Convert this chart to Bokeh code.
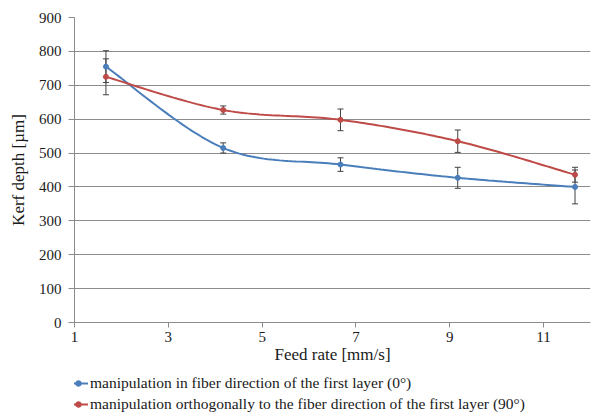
import numpy as np
from bokeh.plotting import figure
from bokeh.layouts import column
from bokeh.models import (ColumnDataSource, Whisker, TeeHead, Legend, LegendItem,
                          Range1d, FixedTicker)
from bokeh.embed import file_html
from bokeh.resources import INLINE

feed_rate = [1.67, 4.17, 6.67, 9.17, 11.67]
depth_0 = [755, 515, 466, 427, 400]
err_0 = [47, 15, 20, 31, 50]
depth_90 = [725, 627, 598, 535, 436]
err_90 = [53, 12, 32, 33, 22]

label_0 = "manipulation in fiber direction of the first layer (0°)"
label_90 = "manipulation orthogonally to the fiber direction of the first layer (90°)"
x_ticks = [1, 3, 5, 7, 9, 11]
y_ticks = list(range(0, 901, 100))

BLUE = "#4a7ebb"
RED = "#be4b48"
FONT = "Liberation Serif"
TXT = "#1a1a1a"

X0, X1, Y0, Y1 = 1, 12, 0, 900
FW, FH = 516, 305  # frame size in px (for screen-space smoothing)


def smooth(xs, ys, n=30):
    # Catmull-Rom style smoothing in screen space, like a spreadsheet "smoothed line"
    px = (np.array(xs, float) - X0) / (X1 - X0) * FW
    py = (np.array(ys, float) - Y0) / (Y1 - Y0) * FH
    pts = np.column_stack([px, py])
    out = []
    m = len(pts)
    for i in range(m - 1):
        p0 = pts[i - 1] if i > 0 else pts[i]
        p1 = pts[i]
        p2 = pts[i + 1]
        p3 = pts[i + 2] if i + 2 < m else pts[i + 1]
        c1 = p1 + (p2 - p0) / 6.0
        c2 = p2 - (p3 - p1) / 6.0
        t = np.linspace(0, 1, n)[:, None]
        seg = ((1 - t) ** 3) * p1 + 3 * ((1 - t) ** 2) * t * c1 + 3 * (1 - t) * t ** 2 * c2 + t ** 3 * p2
        if i > 0:
            seg = seg[1:]
        out.append(seg)
    out = np.vstack(out)
    sx = out[:, 0] / FW * (X1 - X0) + X0
    sy = out[:, 1] / FH * (Y1 - Y0) + Y0
    return sx, sy


p = figure(width=594, height=367, output_backend="svg", toolbar_location=None,
           x_range=Range1d(X0, X1), y_range=Range1d(Y0, Y1),
           min_border_left=74, min_border_right=4, min_border_top=17, min_border_bottom=45)
p.outline_line_color = None
p.background_fill_color = "white"
p.border_fill_color = "white"

p.xgrid.grid_line_color = None
p.ygrid.grid_line_color = "#8c8c8c"
p.ygrid.grid_line_width = 1

for ax in (p.xaxis[0], p.yaxis[0]):
    ax.axis_line_color = "#8c8c8c"
    ax.major_tick_line_color = "#8c8c8c"
    ax.minor_tick_line_color = None
    ax.major_tick_out = 5
    ax.major_tick_in = 0
    ax.major_label_text_font = FONT
    ax.major_label_text_font_size = "15px"
    ax.major_label_text_color = TXT
    ax.axis_label_text_font = FONT
    ax.axis_label_text_font_size = "17px"
    ax.axis_label_text_font_style = "normal"
    ax.axis_label_text_color = TXT

p.yaxis.major_tick_out = 6
p.xaxis.ticker = FixedTicker(ticks=x_ticks)
p.yaxis.ticker = FixedTicker(ticks=y_ticks)
p.xaxis.axis_label = "Feed rate [mm/s]"
p.yaxis.axis_label = "Kerf depth [µm]"
p.xaxis.axis_label_standoff = 0
p.yaxis.axis_label_standoff = 8
p.xaxis.major_label_standoff = 4
p.yaxis.major_label_standoff = 7

legend_fig = figure(width=594, height=48, output_backend="svg", toolbar_location=None,
                    x_range=Range1d(-100, -99), y_range=Range1d(-100, -99),
                    min_border=0, x_axis_type=None, y_axis_type=None)
legend_fig.outline_line_color = None
legend_fig.xgrid.grid_line_color = None
legend_fig.ygrid.grid_line_color = None

items = []
for ys, es, col, lab in ((depth_0, err_0, BLUE, label_0), (depth_90, err_90, RED, label_90)):
    sx, sy = smooth(feed_rate, ys)
    p.line(sx, sy, line_color=col, line_width=2)
    src = ColumnDataSource(dict(x=feed_rate, y=ys,
                                lo=[a - b for a, b in zip(ys, es)],
                                hi=[a + b for a, b in zip(ys, es)]))
    w = Whisker(source=src, base="x", lower="lo", upper="hi",
                line_color="#404040", line_width=1,
                upper_head=TeeHead(size=6, line_color="#404040", line_width=1),
                lower_head=TeeHead(size=6, line_color="#404040", line_width=1))
    p.add_layout(w)
    p.scatter("x", "y", source=src, size=5, fill_color=col, line_color=col)
    # legend proxies: same data, outside the legend strip's visible range
    lk = legend_fig.line(sx, sy, line_color=col, line_width=2)
    sk = legend_fig.scatter("x", "y", source=src, size=5, fill_color=col, line_color=col)
    items.append(LegendItem(label=lab, renderers=[lk, sk]))

legend = Legend(items=items, orientation="vertical", location=(-6, 2),
                label_text_font=FONT, label_text_font_size="15.5px",
                label_text_color=TXT,
                glyph_width=20, glyph_height=14, label_height=18,
                spacing=3, padding=0, margin=0, border_line_color=None,
                background_fill_alpha=0, label_standoff=2)
legend_fig.add_layout(legend, "center")

open("out.html", "w").write(file_html(column(p, legend_fig, spacing=0), INLINE))
